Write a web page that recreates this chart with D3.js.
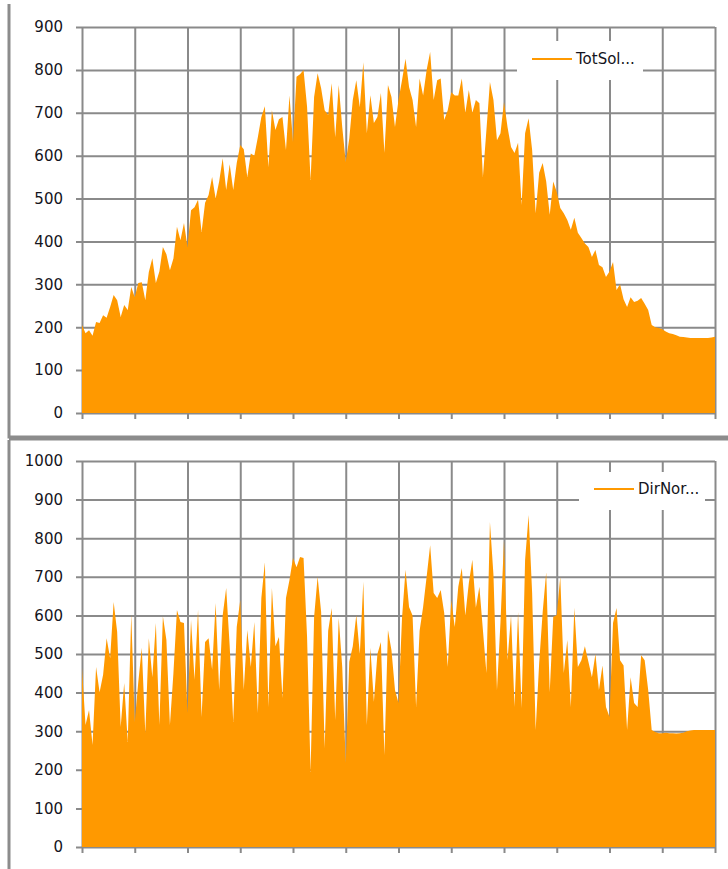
<!DOCTYPE html>
<html>
<head>
<meta charset="utf-8">
<script src="https://cdn.jsdelivr.net/npm/d3@7"></script>
<style>
  body { margin: 0; background: #fff; }
  svg { display: block; }
</style>
</head>
<body>
<svg id="chart"></svg>
<script>
// daily-ish readings, 15 per month, 181 points
const totSol = [
  205, 186, 193, 180, 212, 210, 228, 222, 247, 275, 263, 224, 252, 240, 294,
  270, 303, 305, 263, 329, 361, 303, 330, 387, 370, 333, 360, 434, 403, 443,
  387, 473, 480, 497, 422, 490, 508, 550, 500, 540, 594, 520, 580, 520, 583,
  625, 615, 550, 605, 600, 643, 690, 715, 573, 706, 660, 685, 690, 613, 740,
  632, 784, 790, 800, 714, 543, 737, 792, 757, 706, 695, 769, 643, 765, 667,
  585, 640, 730, 776, 713, 818, 652, 741, 676, 690, 746, 606, 765, 737, 667,
  730, 776, 826, 760, 730, 667, 780, 740, 800, 842, 730, 776, 780, 683, 706,
  748, 740, 740, 780, 700, 753, 700, 730, 722, 550, 660, 772, 730, 636, 652,
  725, 667, 620, 606, 630, 485, 652, 687, 613, 466, 560, 583, 540, 462, 540,
  515, 478, 466, 450, 427, 455, 420, 408, 395, 387, 364, 380, 345, 340, 317,
  330, 352, 287, 300, 265, 247, 270, 259, 262, 268, 255, 240, 205, 200, 198,
  195, 190, 186, 184, 181, 178, 177, 176, 175, 175, 175, 175, 175, 175, 176, 178
]

const dirNor = [
  464, 316, 355, 264, 466, 401, 446, 541, 489, 635, 557, 311, 425, 272, 603,
  324, 427, 516, 295, 541, 440, 580, 316, 598, 536, 316, 451, 614, 583, 580,
  347, 588, 433, 614, 337, 531, 541, 459, 632, 407, 600, 671, 520, 324, 570,
  640, 407, 562, 466, 583, 347, 645, 738, 363, 671, 520, 544, 386, 645, 692,
  749, 725, 751, 749, 544, 194, 596, 700, 609, 256, 560, 619, 329, 593, 466,
  218, 480, 520, 601, 500, 687, 316, 516, 376, 500, 531, 238, 562, 510, 407,
  373, 593, 718, 622, 600, 363, 560, 622, 700, 782, 658, 645, 666, 606, 466,
  640, 570, 674, 723, 600, 684, 744, 620, 674, 562, 451, 842, 705, 407, 583,
  795, 484, 600, 363, 609, 360, 744, 860, 658, 303, 477, 609, 712, 401, 596,
  601, 700, 451, 536, 363, 620, 466, 484, 520, 480, 440, 500, 407, 470, 363,
  337, 580, 619, 484, 470, 303, 440, 373, 363, 497, 484, 407, 303, 298, 295,
  295, 296, 295, 295, 294, 295, 296, 300, 302, 303, 303, 303, 303, 303, 303, 303
]

const monthTicks = d3.range(0, 181, 15)
const topTicks = [0, 100, 200, 300, 400, 500, 600, 700, 800, 900]
const bottomTicks = [0, 100, 200, 300, 400, 500, 600, 700, 800, 900, 1000]

const width = 728
const height = 869
const orange = '#ff9900'
const gridColor = '#8a8a8a'

let svg = d3.select('#chart')
  .attr('width', width)
  .attr('height', height)

// outer frames of the two chart objects
svg.append('path')
  .attr('d', 'M9,4V437H728')
  .attr('fill', 'none')
  .attr('stroke', '#8c8c8c')
  .attr('stroke-width', 3)
svg.append('path')
  .attr('d', 'M9,440V869M9,439H728')
  .attr('fill', 'none')
  .attr('stroke', '#8c8c8c')
  .attr('stroke-width', 3)

function drawPanel(values, ticks, maxY, top, bottom, legend) {
  let left = 82, right = 715
  let x = d3.scaleLinear().domain([0, values.length - 1]).range([left, right])
  let y = d3.scaleLinear().domain([0, maxY]).range([bottom, top])
  let g = svg.append('g')

  // horizontal grid + labels
  let yAxis = g.append('g')
    .attr('transform', `translate(${left},0)`)
    .call(d3.axisLeft(y).tickValues(ticks).tickFormat(d3.format('d'))
      .tickSize(-(right - left)).tickPadding(19))
  yAxis.select('.domain').remove()
  yAxis.selectAll('line')
    .attr('x1', -6)
    .attr('stroke', gridColor)
    .attr('stroke-width', 2)
  yAxis.selectAll('text')
    .attr('fill', '#141420')
    .style('font-family', '"DejaVu Sans", Verdana, sans-serif')
    .style('font-size', '15px')

  // vertical grid + tick stubs
  let xAxis = g.append('g')
    .attr('transform', `translate(0,${bottom})`)
    .call(d3.axisBottom(x).tickValues(monthTicks).tickSize(-(bottom - top)).tickFormat(''))
  xAxis.select('.domain').remove()
  xAxis.selectAll('line')
    .attr('y1', 6)
    .attr('stroke', gridColor)
    .attr('stroke-width', 2)

  // the series as a filled area
  let area = d3.area()
    .x((d, i) => x(i))
    .y0(y(0))
    .y1(d => y(d))
  g.append('path')
    .datum(values)
    .attr('d', area)
    .attr('fill', orange)

  // legend
  let lg = g.append('g')
  lg.append('rect')
    .attr('x', legend.x0).attr('y', legend.y0)
    .attr('width', legend.x1 - legend.x0).attr('height', legend.y1 - legend.y0)
    .attr('fill', '#fff')
  lg.append('line')
    .attr('x1', legend.lineX).attr('x2', legend.lineX + 40)
    .attr('y1', legend.cy).attr('y2', legend.cy)
    .attr('stroke', orange)
    .attr('stroke-width', 2)
  lg.append('text')
    .attr('x', legend.lineX + 44)
    .attr('y', legend.cy)
    .attr('dominant-baseline', 'central')
    .attr('fill', '#141420')
    .style('font-family', '"DejaVu Sans", Verdana, sans-serif')
    .style('font-size', '15px')
    .text(legend.label)
}

drawPanel(totSol, topTicks, 900, 27, 413,
  { label: 'TotSol...', x0: 517, x1: 643, y0: 41, y1: 80, lineX: 532, cy: 59 })
drawPanel(dirNor, bottomTicks, 1000, 461, 847,
  { label: 'DirNor...', x0: 579, x1: 705, y0: 472, y1: 510, lineX: 594, cy: 489 })
</script>
</body>
</html>
